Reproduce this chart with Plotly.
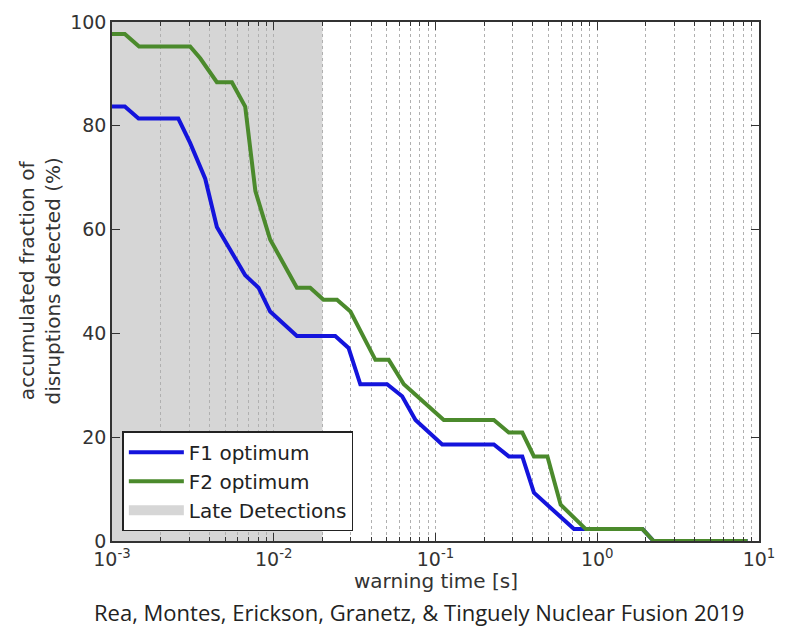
import plotly.graph_objects as go

# F1 optimum (blue) — warning time [s] vs accumulated fraction detected [%]
f1_t = [0.001, 0.0012, 0.00146, 0.00257, 0.00304, 0.00377, 0.00445, 0.00666, 0.00805,
        0.0095, 0.0139, 0.024, 0.029, 0.0343, 0.0502, 0.0622, 0.0752, 0.110, 0.2295,
        0.284, 0.344, 0.406, 0.718, 0.849, 1.905, 2.23, 8.5]
f1_v = [83.7, 83.7, 81.4, 81.4, 76.7, 69.8, 60.5, 51.2, 48.8,
        44.2, 39.5, 39.5, 37.2, 30.2, 30.2, 27.9, 23.3, 18.6, 18.6,
        16.3, 16.3, 9.3, 2.3, 2.3, 2.3, 0, 0]

# F2 optimum (green)
f2_t = [0.001, 0.0012, 0.00147, 0.00304, 0.00351, 0.00445, 0.00551, 0.00666, 0.0077,
        0.0095, 0.0139, 0.0168, 0.0203, 0.0246, 0.0298, 0.0425, 0.0514, 0.0637, 0.1125,
        0.2295, 0.284, 0.344, 0.406, 0.492, 0.594, 0.849, 1.905, 2.23, 8.5]
f2_v = [97.7, 97.7, 95.3, 95.3, 93.0, 88.4, 88.4, 83.7, 67.4,
        58.1, 48.8, 48.8, 46.5, 46.5, 44.2, 34.9, 34.9, 30.2, 23.3,
        23.3, 20.9, 20.9, 16.3, 16.3, 7.0, 2.3, 2.3, 0, 0]

# Late detection window [s]
late_window = [0.001, 0.02]

x_tickvals = [1e-3, 1e-2, 1e-1, 1e0, 1e1]
x_ticktext = ["10<sup>-3</sup>", "10<sup>-2</sup>", "10<sup>-1</sup>", "10<sup>0</sup>", "10<sup>1</sup>"]
y_tickvals = [0, 20, 40, 60, 80, 100]
minor_vals = [m * 10 ** e for e in range(-3, 1) for m in range(2, 10)]

BLUE = "#1414dc"
GREEN = "#4b8a2c"
GRAY = "#d6d6d6"
FONT = "DejaVu Sans"

fig = go.Figure()

fig.add_trace(go.Scatter(x=f1_t, y=f1_v, mode="lines", name="F1 optimum",
                         line=dict(color=BLUE, width=4)))
fig.add_trace(go.Scatter(x=f2_t, y=f2_v, mode="lines", name="F2 optimum",
                         line=dict(color=GREEN, width=4)))
# legend entry for the shaded late-detection window
fig.add_trace(go.Scatter(x=[None], y=[None], mode="lines", name="Late Detections",
                         line=dict(color=GRAY, width=14)))

fig.add_shape(type="rect", xref="x", yref="y",
              x0=late_window[0], x1=late_window[1], y0=0, y1=100,
              fillcolor=GRAY, line=dict(width=0), layer="below")

fig.update_xaxes(type="log", range=[-3, 1],
                 tickmode="array", tickvals=x_tickvals, ticktext=x_ticktext,
                 ticks="inside", ticklen=8, tickwidth=1.2, tickcolor="#333",
                 showline=True, linecolor="#333", linewidth=1.5, mirror="allticks",
                 showgrid=True, gridcolor="#b0b0b0", griddash="dot", gridwidth=1,
                 minor=dict(tickmode="array", tickvals=minor_vals, ticks="inside",
                            ticklen=4, tickcolor="#333", showgrid=True,
                            gridcolor="#b0b0b0", griddash="dot", gridwidth=1),
                 tickfont=dict(family=FONT, size=19, color="#333"),
                 zeroline=False)

fig.update_yaxes(range=[0, 100], tickmode="array", tickvals=y_tickvals,
                 ticks="inside", ticklen=8, tickwidth=1.2, tickcolor="#333",
                 showline=True, linecolor="#333", linewidth=1.5, mirror="allticks",
                 showgrid=False, zeroline=False,
                 tickfont=dict(family=FONT, size=19, color="#333"))

fig.add_annotation(text="accumulated fraction of<br>disruptions detected (%)",
                   xref="paper", yref="paper", x=0, y=0.5, xshift=-73,
                   xanchor="center", yanchor="middle", textangle=-90, showarrow=False,
                   font=dict(family=FONT, size=20, color="#333"))
fig.add_annotation(text="warning time [s]",
                   xref="paper", yref="paper", x=0.5, y=0, yshift=-40,
                   xanchor="center", yanchor="middle", showarrow=False,
                   font=dict(family=FONT, size=20, color="#333"))
fig.add_annotation(text="Rea, Montes, Erickson, Granetz, & Tinguely Nuclear Fusion 2019",
                   xref="paper", yref="paper", x=0.5, y=0, yshift=-71, xshift=-17,
                   xanchor="center", yanchor="middle", showarrow=False,
                   font=dict(family="Open Sans", size=22, color="#222"))

fig.update_layout(
    width=788, height=628,
    margin=dict(l=112, r=29, t=22, b=87),
    plot_bgcolor="white", paper_bgcolor="white",
    showlegend=True,
    legend=dict(x=0.016, y=0.019, xanchor="left", yanchor="bottom",
                bgcolor="white", bordercolor="#222", borderwidth=1.5,
                itemwidth=55, tracegroupgap=0,
                font=dict(family=FONT, size=20, color="#222")),
)

fig.write_html("out.html", config={"displayModeBar": False},
               post_script="document.body.style.margin='0';")
